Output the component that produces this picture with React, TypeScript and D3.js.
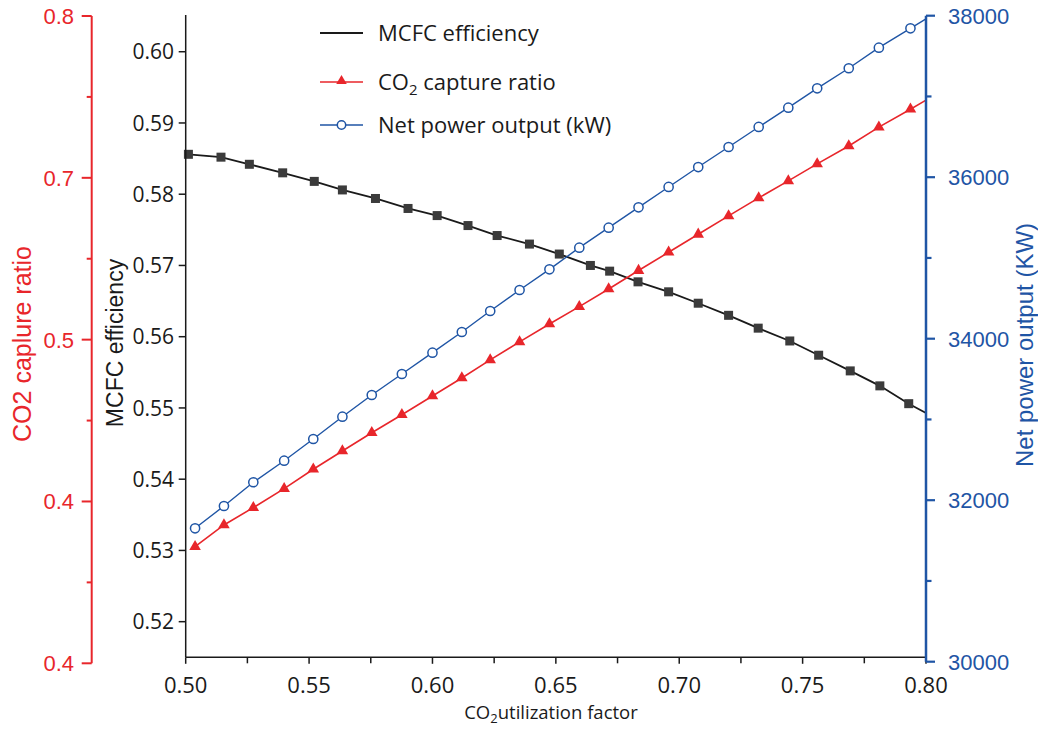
import React from "react";
import * as d3 from "d3";

// ---- data ----
const efficiencyX = [0.5011, 0.5143, 0.5258, 0.5393, 0.5521, 0.5635, 0.5769, 0.5901, 0.6019, 0.6144, 0.6262, 0.6393, 0.6514, 0.664, 0.6718, 0.6833, 0.6957, 0.7077, 0.72, 0.732, 0.7448, 0.7565, 0.7693, 0.7813, 0.793];
const efficiency = [0.5856, 0.5852, 0.5842, 0.583, 0.5818, 0.5806, 0.5794, 0.578, 0.577, 0.5756, 0.5742, 0.573, 0.5716, 0.57, 0.5692, 0.5677, 0.5663, 0.5647, 0.563, 0.5612, 0.5594, 0.5574, 0.5552, 0.5531, 0.5506];

const utilizationX = [0.5038, 0.5155, 0.5274, 0.5399, 0.5517, 0.5635, 0.5754, 0.5876, 0.6, 0.6119, 0.6234, 0.6353, 0.6474, 0.6595, 0.6714, 0.6835, 0.6957, 0.7077, 0.72, 0.7322, 0.7442, 0.7559, 0.7687, 0.7809, 0.7937];
const captureRatio = [0.4721, 0.4855, 0.4962, 0.5079, 0.5199, 0.5312, 0.5425, 0.5536, 0.5652, 0.5763, 0.5875, 0.5986, 0.6097, 0.6204, 0.6313, 0.6427, 0.654, 0.6651, 0.6765, 0.6876, 0.6981, 0.7086, 0.7197, 0.7313, 0.7424];
const netPower = [31652, 31928, 32222, 32489, 32758, 33034, 33303, 33563, 33827, 34083, 34343, 34603, 34859, 35127, 35375, 35627, 35879, 36126, 36374, 36622, 36861, 37101, 37349, 37604, 37844];

// lines continue to the right axis
const lineEndX = 0.8;
const efficiencyEnd = 0.5493;
const captureEnd = 0.748;
const powerEnd = 37960;

const xTicks = [0.5, 0.55, 0.6, 0.65, 0.7, 0.75, 0.8];
const xMinorTicks = [0.525, 0.575, 0.625, 0.675, 0.725, 0.775];
const effTicks = [0.52, 0.53, 0.54, 0.55, 0.56, 0.57, 0.58, 0.59, 0.6];
const redTicks = [0.4, 0.5, 0.6, 0.7, 0.8];
const redTickLabels = ["0.4", "0.4", "0.5", "0.7", "0.8"];
const redMinorTicks = [0.45, 0.55, 0.65, 0.75];
const blueTicks = [30000, 32000, 34000, 36000, 38000];
const blueMinorTicks = [31000, 33000, 35000, 37000];

const legendItems = ["MCFC efficiency", "CO2 capture ratio", "Net power output (kW)"];

const RED = "#e8262b";
const BLUE = "#1f55a5";
const BLACK = "#1a1a1a";
const SANS = "'Liberation Sans', Arial, sans-serif";
const OPEN = "'Open Sans', sans-serif";

export default function App() {
  const x = d3.scaleLinear().domain([0.5, 0.8]).range([185.7, 926]);
  const yEff = d3.scaleLinear().domain([0.515, 0.605]).range([657.3, 16.1]);
  const yRed = d3.scaleLinear().domain([0.4, 0.8]).range([663.3, 16]);
  const yBlue = d3.scaleLinear().domain([30000, 38000]).range([661.7, 15.7]);

  const effPts: [number, number][] = efficiencyX.map((v, i) => [x(v), yEff(efficiency[i])]);
  const capPts: [number, number][] = utilizationX.map((v, i) => [x(v), yRed(captureRatio[i])]);
  const powPts: [number, number][] = utilizationX.map((v, i) => [x(v), yBlue(netPower[i])]);

  const line = d3.line();
  const effPath = line([...effPts, [x(lineEndX), yEff(efficiencyEnd)]]) || "";
  const capPath = line([...capPts, [x(lineEndX), yRed(captureEnd)]]) || "";
  const powPath = line([...powPts, [x(lineEndX), yBlue(powerEnd)]]) || "";
  const tri = d3.symbol(d3.symbolTriangle, 58)() || "";
  const triSmall = d3.symbol(d3.symbolTriangle, 48)() || "";

  const xAxisY = yEff(0.515);
  const redX = 91.7;
  const blueX = x(0.8);

  const legendX0 = 320;
  const legendX1 = 363;
  const legendRows = [33, 82, 125];

  return (
    <svg width={1038} height={729} style={{ position: "absolute", left: 0, top: 0, background: "#fff" }}>
      {/* series lines */}
      <path d={effPath} fill="none" stroke={BLACK} strokeWidth={1.8} />
      <path d={capPath} fill="none" stroke={RED} strokeWidth={1.6} />
      <path d={powPath} fill="none" stroke={BLUE} strokeWidth={1.4} />

      {/* markers */}
      {effPts.map(([px, py], i) => (
        <rect key={"e" + i} x={px - 4.5} y={py - 4.5} width={9} height={9} fill="#3b3b3b" />
      ))}
      {capPts.map(([px, py], i) => (
        <path key={"c" + i} d={tri} transform={`translate(${px},${py})`} fill={RED} />
      ))}
      {powPts.map(([px, py], i) => (
        <circle key={"p" + i} cx={px} cy={py} r={4.6} fill="#fff" stroke={BLUE} strokeWidth={1.5} />
      ))}

      {/* bottom x axis */}
      <line x1={x(0.5)} x2={x(0.8)} y1={xAxisY} y2={xAxisY} stroke={BLACK} strokeWidth={1.5} />
      {xTicks.map((t) => (
        <g key={"xt" + t}>
          <line x1={x(t)} x2={x(t)} y1={xAxisY} y2={xAxisY + 6.5} stroke={BLACK} strokeWidth={1.5} />
          <text x={x(t)} y={693} textAnchor="middle" fontFamily={OPEN} fontSize={22} fill={BLACK}>
            {t.toFixed(2)}
          </text>
        </g>
      ))}
      {xMinorTicks.map((t) => (
        <line key={"xm" + t} x1={x(t)} x2={x(t)} y1={xAxisY} y2={xAxisY + 6} stroke={BLACK} strokeWidth={1.5} />
      ))}
      <text x={551} y={719} textAnchor="middle" fontFamily={OPEN} fontSize={18.5} fill={BLACK}>
        CO<tspan fontSize={13} dy={3.5}>2</tspan>
        <tspan dy={-3.5}>utilization factor</tspan>
      </text>

      {/* left efficiency axis */}
      <line x1={x(0.5)} x2={x(0.5)} y1={15} y2={xAxisY} stroke={BLACK} strokeWidth={1.5} />
      {effTicks.map((t) => (
        <g key={"et" + t}>
          <line x1={x(0.5) - 7} x2={x(0.5)} y1={yEff(t)} y2={yEff(t)} stroke={BLACK} strokeWidth={1.5} />
          <text x={174} y={yEff(t)} dy="0.36em" textAnchor="end" fontFamily={OPEN} fontSize={21} fill={BLACK}>
            {t.toFixed(2)}
          </text>
        </g>
      ))}
      <text
        transform={`translate(123,${343}) rotate(-90)`}
        textAnchor="middle"
        fontFamily={SANS}
        fontSize={23}
        fill={BLACK}
      >
        MCFC efficiency
      </text>

      {/* red capture-ratio axis */}
      <line x1={redX} x2={redX} y1={yRed(0.8)} y2={yRed(0.4)} stroke={RED} strokeWidth={2} />
      {redTicks.map((t, i) => (
        <g key={"rt" + t}>
          <line x1={redX - 10} x2={redX} y1={yRed(t)} y2={yRed(t)} stroke={RED} strokeWidth={2} />
          <text x={74} y={yRed(t)} dy="0.36em" textAnchor="end" fontFamily={SANS} fontSize={22} fill={RED}>
            {redTickLabels[i]}
          </text>
        </g>
      ))}
      {redMinorTicks.map((t) => (
        <line key={"rm" + t} x1={redX - 5} x2={redX} y1={yRed(t)} y2={yRed(t)} stroke={RED} strokeWidth={2} />
      ))}
      <text
        transform={`translate(31,${344}) rotate(-90)`}
        textAnchor="middle"
        fontFamily={SANS}
        fontSize={25}
        fill={RED}
      >
        CO2 caplure ratio
      </text>

      {/* blue net power axis */}
      <line x1={blueX} x2={blueX} y1={yBlue(38000)} y2={yBlue(30000)} stroke={BLUE} strokeWidth={2.5} />
      {blueTicks.map((t) => (
        <g key={"bt" + t}>
          <line x1={blueX} x2={blueX + 9} y1={yBlue(t)} y2={yBlue(t)} stroke={BLUE} strokeWidth={2.2} />
          <text x={948} y={yBlue(t)} dy="0.36em" textAnchor="start" fontFamily={SANS} fontSize={22} fill={BLUE}>
            {t}
          </text>
        </g>
      ))}
      {blueMinorTicks.map((t) => (
        <line key={"bm" + t} x1={blueX} x2={blueX + 5.5} y1={yBlue(t)} y2={yBlue(t)} stroke={BLUE} strokeWidth={2.2} />
      ))}
      <text
        transform={`translate(1033,${345}) rotate(-90)`}
        textAnchor="middle"
        fontFamily={SANS}
        fontSize={24}
        fill={BLUE}
      >
        Net power output (KW)
      </text>

      {/* legend */}
      <line x1={legendX0} x2={legendX1} y1={legendRows[0]} y2={legendRows[0]} stroke={BLACK} strokeWidth={1.8} />
      <text x={378} y={legendRows[0] + 8} fontFamily={OPEN} fontSize={22} fill={BLACK}>
        {legendItems[0]}
      </text>
      <line x1={legendX0} x2={legendX1} y1={legendRows[1]} y2={legendRows[1]} stroke={RED} strokeWidth={1.6} />
      <path d={triSmall} transform={`translate(${(legendX0 + legendX1) / 2},${legendRows[1] - 1})`} fill={RED} />
      <text x={378} y={legendRows[1] + 8} fontFamily={OPEN} fontSize={22} fill={BLACK}>
        CO<tspan fontSize={15} dy={5}>2</tspan>
        <tspan dy={-5}>{legendItems[1].slice(3)}</tspan>
      </text>
      <line x1={legendX0} x2={legendX1} y1={legendRows[2]} y2={legendRows[2]} stroke={BLUE} strokeWidth={1.4} />
      <circle cx={(legendX0 + legendX1) / 2} cy={legendRows[2]} r={4.2} fill="#fff" stroke={BLUE} strokeWidth={1.5} />
      <text x={378} y={legendRows[2] + 8} fontFamily={OPEN} fontSize={22} fill={BLACK}>
        {legendItems[2]}
      </text>
    </svg>
  );
}
